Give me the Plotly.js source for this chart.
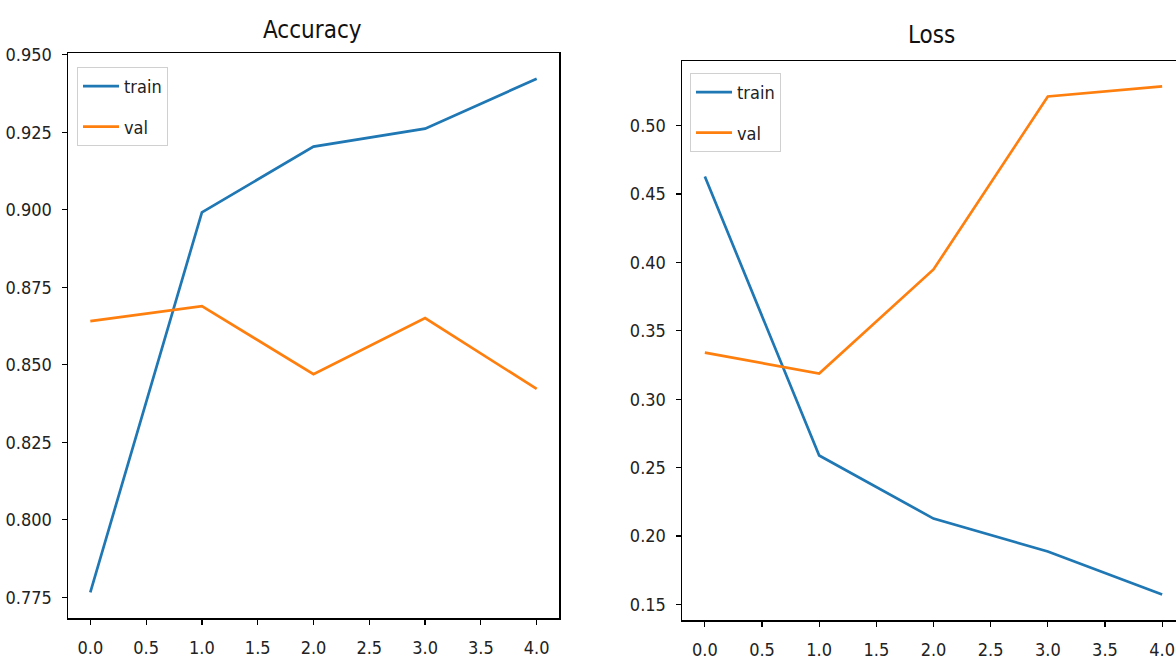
<!DOCTYPE html>
<html>
<head>
<meta charset="utf-8">
<script src="https://cdn.plot.ly/plotly-3.0.1.min.js"></script>
<style>
html,body{margin:0;padding:0;overflow:hidden;background:#fff;}
#chart{width:1200px;height:664px;}
</style>
</head>
<body>
<div id="chart"></div>
<script>
const epochs = [0, 1, 2, 3, 4];
const accTrain = [0.7766, 0.8992, 0.9204, 0.9262, 0.9423];
const accVal = [0.8641, 0.8689, 0.8470, 0.8651, 0.8422];
const lossTrain = [0.4627, 0.2589, 0.2128, 0.1887, 0.1573];
const lossVal = [0.3341, 0.3188, 0.3948, 0.5212, 0.5285];
const titles = ["Accuracy", "Loss"];
const seriesNames = ["train", "val"];

const FONT = '"DejaVu Sans Condensed", "Liberation Sans Narrow", "DejaVu Sans", sans-serif';
const BLUE = '#1f77b4', ORANGE = '#ff7f0e';

function tr(x, y, name, color, xa, ya, leg, grp) {
  return {x: x, y: y, name: name, type: 'scatter', mode: 'lines',
    line: {color: color, width: 2.7}, xaxis: xa, yaxis: ya, legend: leg, legendgroup: grp};
}

const data = [
  tr(epochs, accTrain, seriesNames[0], BLUE, 'x', 'y', 'legend', 'a1'),
  tr(epochs, accVal, seriesNames[1], ORANGE, 'x', 'y', 'legend', 'a2'),
  tr(epochs, lossTrain, seriesNames[0], BLUE, 'x2', 'y2', 'legend2', 'b1'),
  tr(epochs, lossVal, seriesNames[1], ORANGE, 'x2', 'y2', 'legend2', 'b2')
];

const W = 1200, H = 664;
const axBase = {
  showgrid: false, zeroline: false, showline: true, mirror: true,
  linecolor: '#000', linewidth: 1.5, ticks: 'outside', ticklen: 5, tickwidth: 1.2,
  tickcolor: '#000', tickfont: {family: FONT, size: 18, color: '#222'}
};
function xax(domain, anchor) {
  return Object.assign({}, axBase, {domain: domain, anchor: anchor, range: [-0.2, 4.2],
    tickmode: 'linear', tick0: 0, dtick: 0.5, tickformat: '.1f', ticklabelstandoff: 8});
}
function yax(domain, anchor, range, dtick, fmt) {
  return Object.assign({}, axBase, {domain: domain, anchor: anchor, range: range,
    tickmode: 'linear', tick0: 0, dtick: dtick, tickformat: fmt, ticklabelstandoff: 6});
}
const legBase = {
  bgcolor: 'rgba(255,255,255,0.8)', bordercolor: '#d0d0d0', borderwidth: 1,
  font: {family: FONT, size: 18, color: '#222'}, tracegroupgap: 14,
  xanchor: 'left', yanchor: 'top', itemwidth: 36
};

const layout = {
  width: W, height: H,
  margin: {l: 0, r: 0, t: 0, b: 0},
  paper_bgcolor: '#fff', plot_bgcolor: '#fff',
  showlegend: true,
  xaxis: xax([68 / W, 559 / W], 'y'),
  yaxis: yax([(H - 618) / H, (H - 53) / H], 'x', [0.7683, 0.9506], 0.025, '.3f'),
  xaxis2: xax([682 / W, 1185 / W], 'y2'),
  yaxis2: yax([(H - 620) / H, (H - 61) / H], 'x2', [0.1387, 0.5471], 0.05, '.2f'),
  legend: Object.assign({}, legBase, {x: 77 / W, y: (H - 67) / H}),
  legend2: Object.assign({}, legBase, {x: 690 / W, y: (H - 73) / H}),
  annotations: [
    {text: titles[0], xref: 'paper', yref: 'paper', x: 313 / W, y: (H - 30) / H,
      showarrow: false, xanchor: 'center', yanchor: 'middle',
      font: {family: FONT, size: 24, color: '#111'}},
    {text: titles[1], xref: 'paper', yref: 'paper', x: 932 / W, y: (H - 35) / H,
      showarrow: false, xanchor: 'center', yanchor: 'middle',
      font: {family: FONT, size: 24, color: '#111'}}
  ]
};

Plotly.newPlot('chart', data, layout, {displayModeBar: false, staticPlot: true});
</script>
</body>
</html>
